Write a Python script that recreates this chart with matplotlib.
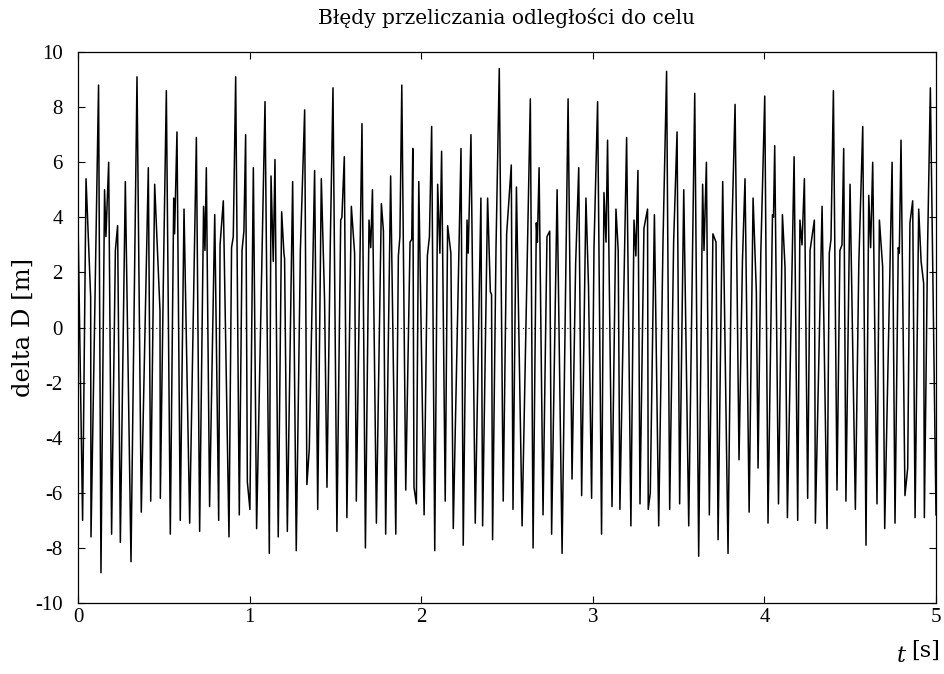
import matplotlib
matplotlib.use("Agg")
import matplotlib.pyplot as plt

plt.rcParams['font.family'] = ['Liberation Serif', 'DejaVu Serif']
plt.rcParams['axes.unicode_minus'] = False

# time [s] and range error [m]
t = [0.000, 0.027, 0.047, 0.074, 0.076, 0.120, 0.134, 0.155, 0.163, 0.179,
     0.196, 0.218, 0.231, 0.247, 0.276, 0.309, 0.344, 0.369, 0.410,
     0.424, 0.447, 0.478, 0.480, 0.499, 0.515, 0.538, 0.558, 0.563, 0.577,
     0.596, 0.618, 0.651, 0.690, 0.709, 0.732, 0.740, 0.748, 0.767, 0.797, 0.820,
     0.828, 0.847, 0.880, 0.895, 0.905, 0.919, 0.940, 0.956, 0.967, 0.977,
     0.987, 1.002, 1.022, 1.041, 1.090, 1.115, 1.125, 1.138, 1.148, 1.167,
     1.187, 1.200, 1.204, 1.220, 1.251,
     1.272, 1.296, 1.321, 1.334, 1.348, 1.379, 1.397, 1.418, 1.437, 1.451,
     1.470, 1.486, 1.509, 1.531, 1.538, 1.552, 1.567, 1.593, 1.612, 1.622,
     1.655, 1.675,
     1.696, 1.706, 1.716, 1.739, 1.768, 1.780, 1.793, 1.822, 1.852, 1.867,
     1.876, 1.887, 1.910, 1.935, 1.945, 1.951, 1.958, 1.972, 1.986, 2.017,
     2.036, 2.048, 2.061, 2.079, 2.096,
     2.109, 2.119, 2.140, 2.154, 2.173, 2.187, 2.232, 2.245, 2.267, 2.274,
     2.290, 2.315, 2.348, 2.358, 2.387, 2.403, 2.410, 2.416, 2.436, 2.455,
     2.478, 2.498, 2.525,
     2.535, 2.555, 2.588, 2.636, 2.652, 2.671, 2.677, 2.687, 2.710, 2.733,
     2.749, 2.760, 2.792, 2.821, 2.856, 2.879, 2.900, 2.918,
     2.935, 2.960, 2.975, 2.993, 3.007, 3.028, 3.051, 3.065, 3.077, 3.086,
     3.112, 3.135, 3.148, 3.158, 3.197, 3.222, 3.240, 3.251, 3.263, 3.275,
     3.298, 3.319, 3.323, 3.335,
     3.359, 3.384, 3.409, 3.430, 3.448, 3.471, 3.491, 3.506, 3.530, 3.559,
     3.594, 3.617, 3.640, 3.648, 3.662, 3.679, 3.700, 3.718, 3.730, 3.757,
     3.788, 3.808, 3.829, 3.852, 3.872, 3.887, 3.911, 3.934, 3.953, 3.963,
     3.979, 4.002, 4.021, 4.047, 4.053, 4.060, 4.082, 4.105, 4.120, 4.134,
     4.173, 4.194,
     4.207, 4.219, 4.233, 4.252, 4.266, 4.291, 4.297, 4.336, 4.365, 4.378,
     4.388, 4.402, 4.423, 4.440, 4.452, 4.462, 4.475, 4.499, 4.530, 4.550,
     4.573, 4.592,
     4.608, 4.619, 4.631, 4.656, 4.670, 4.689, 4.701, 4.744, 4.761, 4.780,
     4.786, 4.796, 4.819, 4.835, 4.848, 4.864, 4.878, 4.899, 4.913, 4.928,
     4.932, 4.951, 4.967, 5.000]

delta_d = [4.0, -7.0, 5.4, 1.1, -7.6, 8.8, -8.9, 5.0, 3.3, 6.0,
           -7.5, 2.8, 3.7, -7.8, 5.3, -8.5, 9.1, -6.7, 5.8,
           -6.3, 5.2, 0.6, -6.2, 2.3, 8.6, -7.5, 4.7, 3.4, 7.1,
           -7.0, 4.3, -7.1, 6.9, -7.4, 4.4, 2.8, 5.8, -6.5, 4.1, -7.0,
           3.0, 4.6, -7.6, 2.9, 3.3, 9.1, -6.8, 2.8, 3.5, 7.0,
           -5.6, -6.6, 5.8, -7.3, 8.2, -8.2, 5.5, 2.4, 6.1, -7.6,
           4.2, 2.7, 2.5, -7.4, 5.3,
           -8.1, 2.8, 7.9, -5.7, -4.4, 5.7, -6.6, 5.4, 1.0, -5.8,
           2.9, 8.7, -7.4, 3.9, 4.0, 6.2, -6.9, 4.4, 2.7, -6.3,
           7.4, -8.0,
           3.9, 2.9, 5.0, -7.1, 4.5, 3.5, -7.5, 5.5, -7.5, 2.6,
           3.3, 8.8, -5.9, 3.1, 3.2, 6.5, -5.8, -6.4, 5.3, -6.8,
           2.6, 3.3, 7.3, -8.1, 5.2,
           2.7, 6.4, -6.3, 3.7, 2.7, -7.3, 6.5, -7.9, 3.9, 2.7,
           7.0, -7.1, 4.7, -7.2, 4.7, 1.3, 1.2, -7.7, 2.9, 9.4,
           -6.3, 3.4, 5.9,
           -6.6, 5.1, -7.2, 8.3, -8.0, 3.8, 3.1, 5.8, -6.8, 3.3,
           3.5, -7.5, 5.0, -8.2, 8.3, -5.5, 2.3, 5.8,
           -6.1, 4.7, 1.5, -6.2, 2.9, 8.2, -7.5, 4.9, 3.1, 6.8,
           -6.5, 4.3, 2.8, -6.6, 6.9, -7.2, 3.9, 2.6, 5.7, -6.4,
           3.6, 4.3, -6.6, -6.0,
           4.1, -7.2, 3.1, 9.3, -6.6, 3.1, 7.1, -6.4, 5.0, -7.2,
           8.5, -8.3, 5.2, 2.8, 6.0, -6.8, 3.4, 3.1, -7.7, 5.3,
           -8.2, 2.9, 8.1, -4.8, 2.4, 5.4, -6.7, 4.7, 1.3, -5.1,
           2.7, 8.4, -7.1, 4.1, 4.0, 6.6, -6.4, 4.1, 2.2, -6.9,
           6.2, -7.0,
           3.9, 3.0, 5.4, -6.2, 2.8, 3.9, -7.1, 4.4, -7.3, 2.7,
           3.2, 8.6, -5.9, 2.8, 3.0, 6.5, -6.3, 5.2, -6.6, 2.3,
           7.3, -7.9,
           4.8, 2.9, 6.0, -6.4, 3.9, 2.2, -7.3, 6.0, -7.1, 2.9,
           2.7, 6.8, -6.1, -5.1, 3.8, 4.6, -6.9, 4.3, 2.4, 1.6,
           -6.9, 3.0, 8.7, -6.8]

fig = plt.figure(figsize=(9.45, 6.74), dpi=100)
ax = fig.add_axes([0.0825, 0.1053, 0.908, 0.8175])

ax.plot(t, delta_d, color='black', linewidth=1.1)
ax.axhline(0, color='black', linestyle=(0, (1, 4)), linewidth=0.8)

ax.set_xlim(0, 5)
ax.set_ylim(-10, 10)
ax.set_xticks([0, 1, 2, 3, 4, 5])
ax.set_yticks(range(-10, 11, 2))
ax.tick_params(direction='in', top=True, right=True, labelsize=15, length=5)
ax.tick_params(axis='y', pad=11)
for s in ax.spines.values():
    s.set_linewidth(0.9)

ax.set_title('Błędy przeliczania odległości do celu', fontsize=14.5,
             family='DejaVu Serif', pad=20)
ax.set_ylabel('delta D [m]', fontsize=17.5, family='DejaVu Serif', labelpad=0)

# x label "t [s]" in the bottom right corner, t in italics
unit = fig.text(0.995, 0.025, '[s]', fontsize=16, ha='right', va='baseline',
                family='DejaVu Serif')
ax.annotate('t', xy=(0, 0), xycoords=unit, xytext=(-4, 0),
            textcoords='offset points', fontsize=16, style='italic',
            family='DejaVu Serif', ha='right', va='baseline',
            annotation_clip=False)

fig.savefig('out.png', dpi=100)
